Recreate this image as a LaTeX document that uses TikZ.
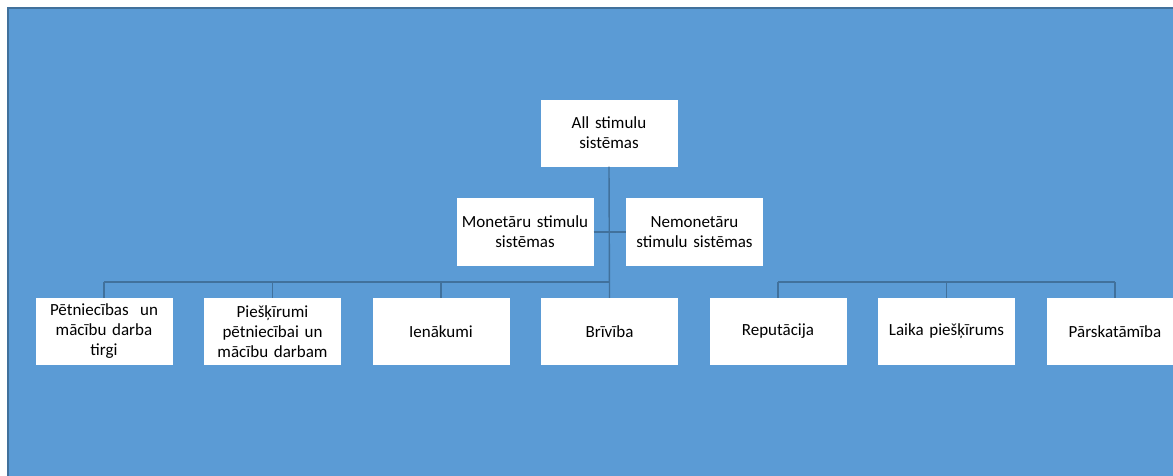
\documentclass[tikz,border=0pt]{standalone}
\usepackage{fontspec}
\setmainfont{Carlito}

\definecolor{panelblue}{HTML}{5B9BD5}
\definecolor{paneledge}{HTML}{41719C}
\definecolor{linkblue}{HTML}{41719C}

\tikzset{
  stimbox/.style={fill=white, draw=none, inner sep=1pt, align=center,
    minimum width=137pt, minimum height=67pt, text width=132pt,
    font=\fontsize{17}{20}\selectfont},
  link/.style={draw=linkblue, line width=1.4pt},
}

\begin{document}
\begin{tikzpicture}[x=1pt,y=-1pt]
  % helper grid: comment for final drawing
  % \draw[help lines,step=50] (0,0) grid (1173,475);

  \useasboundingbox (0,0) rectangle (1173,475);
  \clip (0,0) rectangle (1173,475);

  % panel
  \filldraw[fill=panelblue, draw=paneledge, line width=2pt] (8,8) rectangle (1200,500);

  % top
  \node[stimbox] (all) at (609,133) {All stimulu\\sistēmas};

  % second level
  \node[stimbox, minimum height=68pt] (mon)   at (525,232)   {Monetāru stimulu\\sistēmas};
  \node[stimbox, minimum height=68pt] (nemon) at (694.5,232) {Nemonetāru\\stimulu sistēmas};

  % bottom row
  \node[stimbox] (b1) at (104,331.5)    {Pētniecības \ un\\mācību darba\\tirgi};
  \node[stimbox] (b2) at (272.5,331.5)  {Piešķīrumi\\pētniecībai un\\mācību darbam};
  \node[stimbox] (b3) at (441,331.5)    {Ienākumi};
  \node[stimbox] (b4) at (609.5,331.5)  {Brīvība};
  \node[stimbox] (b5) at (778,331.5)    {Reputācija};
  \node[stimbox] (b6) at (946.5,331.5)  {Laika piešķīrums};
  \node[stimbox] (b7) at (1115,331.5)   {Pārskatāmība};

  % connectors
  \path (b1.north) ++(0,-16) coordinate (busL);
  \draw[link] (all.south) -- (b4.north);
  \draw[link] (mon.east) -- (nemon.west);
  \draw[link] (busL) -- (all.south |- busL);
  \draw[link] (b5.north |- busL) -- (b7.north |- busL);
  \foreach \n in {1,2,3,5,6,7}
    \draw[link] (b\n.north) -- (b\n.north |- busL);
\end{tikzpicture}
\end{document}
